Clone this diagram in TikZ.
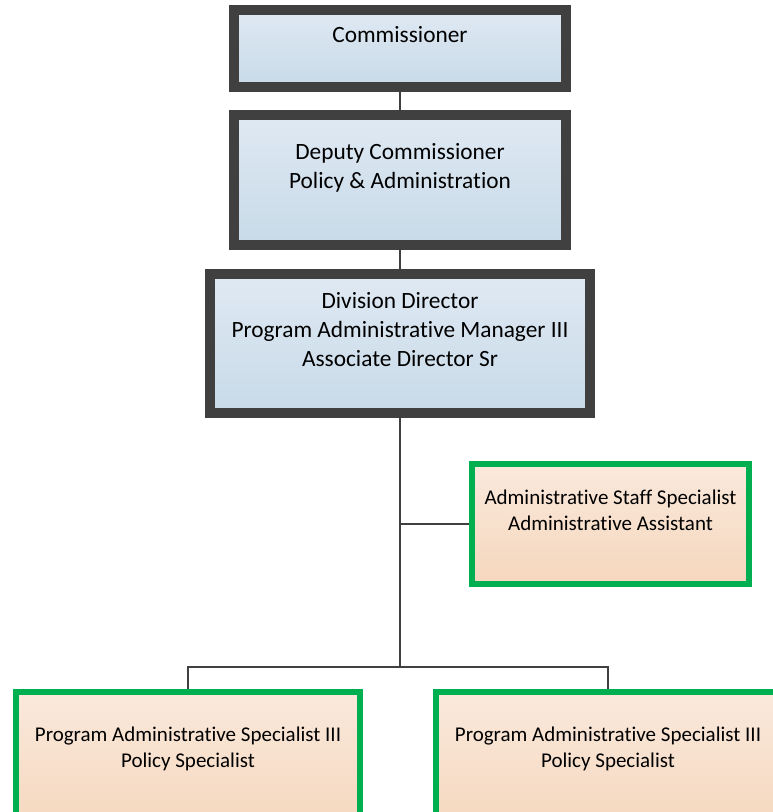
\documentclass[tikz,border=0pt]{standalone}
\usepackage{fontspec}
\setmainfont{Carlito}[Ligatures={NoCommon,NoContextual}]

\definecolor{chart_dark}{HTML}{404040}
\definecolor{chart_green}{HTML}{00B050}
\definecolor{chart_blue_top}{HTML}{DFE9F3}
\definecolor{chart_blue_bot}{HTML}{C8DAE8}
\definecolor{chart_peach_top}{HTML}{FAE9DC}
\definecolor{chart_peach_bot}{HTML}{F5D7BD}

\tikzset{
  lead_box/.style={rectangle, draw=chart_dark, line width=7.5pt, inner sep=0pt,
    top color=chart_blue_top, bottom color=chart_blue_bot},
  staff_box/.style={rectangle, draw=chart_green, line width=4.5pt, inner sep=0pt,
    top color=chart_peach_top, bottom color=chart_peach_bot},
  lead_text/.style={align=center, text=black, yshift=10.5pt,
    font=\fontsize{17.5}{21.75}\selectfont},
  staff_text/.style={align=center, text=black, yshift=10.5pt,
    font=\fontsize{15.75}{19.5}\selectfont},
  link/.style={draw=chart_dark, line width=1.8pt},
}

\begin{document}
\begin{tikzpicture}[x=0.75pt, y=-0.75pt]
    \useasboundingbox (0,0) rectangle (772,812);

    \node[lead_box, minimum width=249pt, minimum height=57.75pt,
      label={[lead_text]center:Commissioner}]
      (comm) at (400,48.5) {};
    \node[lead_box, minimum width=249pt, minimum height=97.5pt,
      label={[lead_text, yshift=-1.5pt]center:{Deputy Commissioner\\Policy \& Administration}}]
      (deputy) at (400,180) {};
    \node[lead_box, minimum width=285pt, minimum height=104.25pt,
      label={[lead_text]center:{Division Director\\Program Administrative Manager III\\Associate Director Sr}}]
      (director) at (400,343.5) {};

    \node[staff_box, minimum width=207.75pt, minimum height=90pt,
      label={[staff_text]center:{Administrative Staff Specialist\\Administrative Assistant}}]
      (assist) at (610.5,524) {};
    \node[staff_box, minimum width=258pt, minimum height=106.5pt,
      label={[staff_text]center:{Program Administrative Specialist III\\Policy Specialist}}]
      (policy1) at (188,763) {};
    \node[staff_box, minimum width=258pt, minimum height=106.5pt,
      label={[staff_text]center:{Program Administrative Specialist III\\Policy Specialist}}]
      (policy2) at (608,763) {};

    \coordinate (split) at (400,667);

    \draw[link] (comm.south) -- (deputy.north);
    \draw[link] (deputy.south) -- (director.north);
    \draw[link] (director.south) -- (split);
    \draw[link] (assist.west) -- (assist.west -| split);
    \draw[link] (policy1.north) |- (split) -| (policy2.north);
\end{tikzpicture}
\end{document}
